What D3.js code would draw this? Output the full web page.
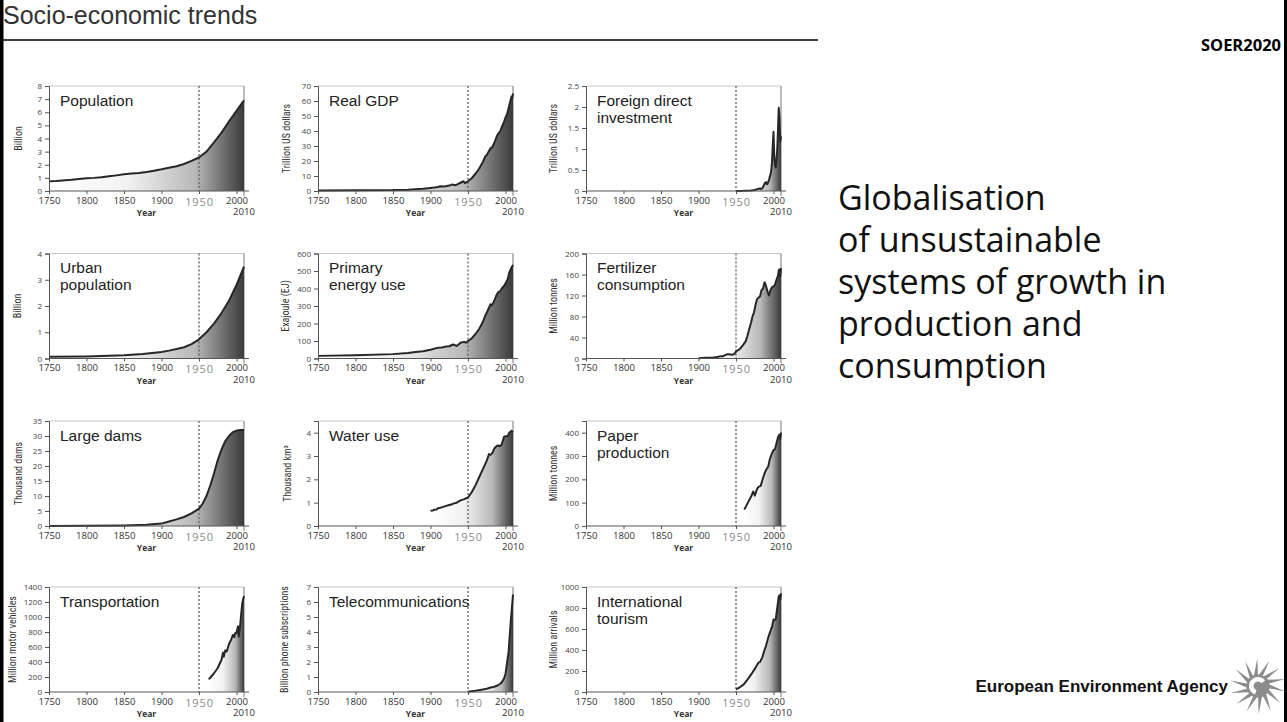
<!DOCTYPE html>
<html><head><meta charset="utf-8">
<script src="https://cdn.jsdelivr.net/npm/d3@7/dist/d3.min.js"></script>
<style>
html,body{margin:0;padding:0;background:#fff;overflow:hidden;}
svg{display:block;}
</style></head><body>
<svg id="chart" width="1287" height="722"></svg>
<script>
// ---------------- DATA ----------------
const xTicks = [1750, 1800, 1850, 1900, 1950, 2000];

const population = [[1750,0.75],[1760,0.77],[1780,0.85],[1800,0.97],[1810,1.0],[1820,1.05],[1830,1.12],[1840,1.19],[1850,1.27],[1860,1.33],[1870,1.38],[1880,1.45],[1890,1.55],[1900,1.65],[1910,1.77],[1920,1.88],[1930,2.06],[1940,2.3],[1950,2.55],[1960,3.0],[1970,3.7],[1980,4.45],[1990,5.3],[2000,6.1],[2010,6.9]];
const realGdp = [[1750,0.4],[1800,0.5],[1850,0.6],[1870,0.9],[1880,1.2],[1890,1.5],[1900,2.0],[1905,2.3],[1910,2.7],[1913,3.2],[1918,3.0],[1920,3.1],[1925,3.6],[1929,4.4],[1932,3.8],[1935,4.2],[1940,5.5],[1944,6.5],[1946,5.2],[1950,6.5],[1955,8.5],[1960,11.5],[1965,15],[1970,19.5],[1973,23],[1975,24],[1980,28.5],[1982,29],[1985,32],[1988,36],[1990,38],[1993,40],[1995,42.5],[1998,46],[2000,49],[2002,51],[2004,55],[2006,59],[2008,63],[2009,62],[2010,65]];
const fdi = [[1950,0.002],[1960,0.005],[1970,0.013],[1975,0.025],[1978,0.04],[1980,0.055],[1982,0.06],[1983,0.05],[1985,0.06],[1987,0.13],[1988,0.17],[1989,0.2],[1990,0.21],[1991,0.16],[1992,0.17],[1993,0.22],[1994,0.26],[1995,0.34],[1996,0.39],[1997,0.48],[1998,0.69],[1999,1.09],[2000,1.41],[2001,0.83],[2002,0.62],[2003,0.56],[2004,0.74],[2005,0.99],[2006,1.46],[2007,1.98],[2008,1.74],[2009,1.18],[2010,1.3]];
const urbanPopulation = [[1750,0.07],[1800,0.08],[1850,0.12],[1875,0.17],[1900,0.25],[1910,0.3],[1920,0.36],[1930,0.43],[1940,0.55],[1950,0.73],[1960,1.0],[1970,1.33],[1980,1.73],[1990,2.2],[2000,2.8],[2010,3.5]];
const energyUse = [[1750,15],[1800,18],[1850,25],[1870,32],[1880,37],[1890,42],[1900,50],[1910,62],[1915,63],[1920,68],[1925,70],[1930,80],[1935,72],[1940,90],[1945,95],[1947,90],[1950,100],[1955,115],[1960,140],[1965,170],[1970,210],[1973,245],[1975,262],[1978,290],[1980,310],[1982,305],[1985,330],[1988,362],[1990,378],[1993,385],[1995,400],[1998,415],[2000,428],[2003,455],[2005,490],[2008,520],[2010,535]];
const fertilizer = [[1900,0.5],[1905,1],[1910,1.5],[1915,1.5],[1920,2],[1925,3],[1930,4.5],[1932,4],[1935,6],[1938,8],[1940,8],[1945,7],[1948,9],[1950,13],[1955,18],[1960,27],[1963,33],[1965,42],[1968,58],[1970,68],[1972,80],[1974,88],[1976,102],[1978,113],[1980,116],[1982,118],[1984,130],[1986,133],[1988,145],[1989,143],[1990,138],[1992,128],[1994,120],[1996,130],[1998,136],[2000,137],[2002,141],[2004,150],[2006,158],[2007,168],[2008,170],[2009,156],[2010,172]];
const largeDams = [[1750,0],[1800,0.05],[1850,0.2],[1880,0.4],[1900,0.8],[1910,1.5],[1920,2.2],[1930,3.0],[1940,4.2],[1950,5.8],[1955,7.5],[1960,10],[1965,13.5],[1970,17.5],[1975,22],[1980,25.5],[1985,28.3],[1990,30],[1995,31.3],[2000,31.8],[2005,32],[2010,32]];
const waterUse = [[1900,0.65],[1903,0.66],[1905,0.7],[1908,0.71],[1910,0.76],[1913,0.78],[1915,0.8],[1920,0.85],[1925,0.9],[1928,0.92],[1930,0.96],[1935,1.0],[1940,1.1],[1945,1.15],[1950,1.22],[1955,1.45],[1960,1.75],[1965,2.1],[1970,2.45],[1975,2.8],[1978,3.08],[1980,3.05],[1983,3.15],[1985,3.32],[1988,3.42],[1990,3.45],[1993,3.43],[1995,3.5],[1998,3.82],[2000,3.85],[2003,3.85],[2005,4.0],[2008,4.08],[2010,4.02]];
const paperProduction = [[1961,70],[1965,95],[1970,125],[1973,148],[1975,130],[1978,158],[1980,168],[1983,172],[1985,195],[1988,225],[1990,240],[1993,255],[1995,285],[1998,312],[2000,325],[2002,330],[2004,355],[2006,380],[2008,392],[2009,372],[2010,400]];
const transportation = [[1963,170],[1965,190],[1970,250],[1975,320],[1980,430],[1982,525],[1983,470],[1985,555],[1987,540],[1990,640],[1993,700],[1995,760],[1997,730],[1998,780],[2000,790],[2002,875],[2003,740],[2005,900],[2007,1120],[2008,1200],[2010,1280]];
const telecom = [[1950,0.01],[1960,0.08],[1970,0.17],[1975,0.22],[1980,0.3],[1985,0.35],[1990,0.45],[1993,0.55],[1995,0.65],[1998,0.9],[2000,1.2],[2001,1.55],[2002,1.9],[2003,2.3],[2004,2.6],[2005,3.3],[2006,4.0],[2007,4.7],[2008,5.3],[2009,5.9],[2010,6.5]];
const tourism = [[1950,25],[1955,45],[1960,70],[1965,115],[1970,165],[1975,220],[1980,280],[1982,285],[1985,330],[1988,400],[1990,440],[1993,520],[1995,560],[1998,620],[2000,690],[2001,685],[2003,695],[2005,800],[2007,910],[2008,920],[2009,880],[2010,940]];

const ticksPopulation = [0,1,2,3,4,5,6,7,8];
const ticksGdp = [0,10,20,30,40,50,60,70];
const ticksFdi = [0,0.5,1,1.5,2,2.5];
const ticksUrban = [0,1,2,3,4];
const ticksEnergy = [0,100,200,300,400,500,600];
const ticksFertilizer = [0,40,80,120,160,200];
const ticksDams = [0,5,10,15,20,25,30,35];
const ticksWater = [0,1,2,3,4];
const ticksPaper = [0,100,200,300,400];
const ticksTransport = [0,200,400,600,800,1000,1200,1400];
const ticksTelecom = [0,1,2,3,4,5,6,7];
const ticksTourism = [0,200,400,600,800,1000];

const titles = [["Population"],["Real GDP"],["Foreign direct","investment"],["Urban","population"],["Primary","energy use"],["Fertilizer","consumption"],["Large dams"],["Water use"],["Paper","production"],["Transportation"],["Telecommunications"],["International","tourism"]];
const units = ["Billion","Trillion US dollars","Trillion US dollars","Billion","Exajoule (EJ)","Million tonnes","Thousand dams","Thousand km³","Million tonnes","Million motor vehicles","Billion phone subscriptions","Million arrivals"];
const series = [population, realGdp, fdi, urbanPopulation, energyUse, fertilizer, largeDams, waterUse, paperProduction, transportation, telecom, tourism];
const yTickSets = [ticksPopulation, ticksGdp, ticksFdi, ticksUrban, ticksEnergy, ticksFertilizer, ticksDams, ticksWater, ticksPaper, ticksTransport, ticksTelecom, ticksTourism];
const yMaxes = [8, 70, 2.5, 4, 600, 200, 35, 4.5, 450, 1400, 7, 1000];

const rightText = ["Globalisation","of unsustainable","systems of growth in","production and","consumption"];

// ---------------- LAYOUT ----------------
const colX = [49, 318, 586];
const rowY = [86, 253.5, 421, 587];
const plotW = 195, plotH = 105;
const unitOffset = [27, 28, 29, 28, 29, 29, 27, 27, 29, 33, 30, 29];

const svg = d3.select('#chart');
const defs = svg.append('defs');
const tickFont = "'Open Sans', 'Liberation Sans', sans-serif";
const titleFont = "'Liberation Sans', Arial, sans-serif";
const narrowFont = "'Liberation Sans Narrow', 'Roboto Condensed', 'DejaVu Sans Condensed', sans-serif";

// page frame & header
svg.append('rect').attr('x',0).attr('y',0).attr('width',3.5).attr('height',722).attr('fill','#000');
svg.append('rect').attr('x',1284).attr('y',0).attr('width',3).attr('height',722).attr('fill','#000');
svg.append('text').attr('x',3).attr('y',23.5).text('Socio-economic trends')
  .attr('font-family',titleFont).attr('font-size',25).attr('fill','#333');
svg.append('line').attr('x1',0).attr('x2',818).attr('y1',40).attr('y2',40).attr('stroke','#000').attr('stroke-width',1.5);
svg.append('text').attr('x',1281).attr('y',51).attr('text-anchor','end').text('SOER2020')
  .attr('font-family',"'Open Sans', sans-serif").attr('font-weight','bold').attr('font-size',16.5).attr('fill','#000');

// panels
series.forEach((data, i) => {
  const col = i % 3, row = Math.floor(i / 3);
  const x0 = colX[col], y0 = rowY[row];
  const x = d3.scaleLinear().domain([1750, 2010]).range([x0, x0 + plotW]);
  const y = d3.scaleLinear().domain([0, yMaxes[i]]).range([y0 + plotH, y0]);
  const g = svg.append('g');

  const gid = 'grad' + i;
  const grad = defs.append('linearGradient').attr('id', gid).attr('gradientUnits', 'userSpaceOnUse')
    .attr('x1', x(data[0][0])).attr('x2', x(2010)).attr('y1', 0).attr('y2', 0);
  [[0,'#ffffff'],[0.4,'#f2f2f2'],[0.75,'#b8b8b8'],[1,'#3a3a3a']].forEach(s =>
    grad.append('stop').attr('offset', s[0]).attr('stop-color', s[1]));

  // light frame
  g.append('line').attr('x1', x0).attr('x2', x(2010)).attr('y1', y0).attr('y2', y0).attr('stroke', '#c4c4c4');
  g.append('line').attr('x1', x(2010)).attr('x2', x(2010)).attr('y1', y0).attr('y2', y0 + plotH + 5).attr('stroke', '#777');

  // area
  g.append('path').datum(data)
    .attr('d', d3.area().x(d => x(d[0])).y0(y(0)).y1(d => y(d[1])))
    .attr('fill', `url(#${gid})`);

  // 1950 dotted line
  g.append('line').attr('x1', x(1950)).attr('x2', x(1950)).attr('y1', y0).attr('y2', y(0))
    .attr('stroke', '#6a6a6a').attr('stroke-width', 1.4).attr('stroke-dasharray', '2,2');

  // data line
  g.append('path').datum(data)
    .attr('d', d3.line().x(d => x(d[0])).y(d => y(d[1])))
    .attr('fill', 'none').attr('stroke', '#262626').attr('stroke-width', 2).attr('stroke-linejoin', 'round');

  // y axis
  const ya = g.append('g').attr('transform', `translate(${x0},0)`)
    .call(d3.axisLeft(y).tickValues(yTickSets[i]).tickSize(4).tickPadding(3).tickFormat(d => String(d)));
  ya.select('.domain').attr('stroke', '#555');
  ya.selectAll('.tick line').attr('stroke', '#555');
  ya.selectAll('.tick text').attr('font-family', tickFont).attr('font-size', 8).attr('fill', '#444');

  // x axis
  const xa = g.append('g').attr('transform', `translate(0,${y(0)})`)
    .call(d3.axisBottom(x).tickValues(xTicks).tickSize(3).tickPadding(3).tickFormat(d => String(d)));
  xa.select('.domain').remove();
  xa.selectAll('.tick line').attr('stroke', '#555');
  xa.selectAll('.tick text').attr('font-family', tickFont).attr('font-size', 9.6).attr('fill', '#333');
  xa.selectAll('.tick text').filter(d => d === 1950)
    .attr('font-size', 11).attr('fill', '#8a8a8a').attr('letter-spacing', 0.9).attr('dy', '0.78em');
  g.append('line').attr('x1', x0).attr('x2', x(2010) + 5).attr('y1', y(0)).attr('y2', y(0)).attr('stroke', '#555');

  g.append('text').attr('x', x(2010)).attr('y', y(0) + 24).attr('text-anchor', 'middle').text('2010')
    .attr('font-family', tickFont).attr('font-size', 9.6).attr('fill', '#333');
  g.append('text').attr('x', x0 + plotW / 2).attr('y', y(0) + 25).attr('text-anchor', 'middle').text('Year')
    .attr('font-family', tickFont).attr('font-size', 8.5).attr('font-weight', 'bold').attr('fill', '#333');

  // unit label
  g.append('text').attr('transform', `translate(${x0 - unitOffset[i]},${y0 + plotH / 2}) rotate(-90)`)
    .attr('text-anchor', 'middle').text(units[i])
    .attr('font-family', narrowFont).attr('font-size', 10).attr('fill', '#333');

  // title (one text element per line)
  titles[i].forEach((line, k) => {
    g.append('text').attr('x', x0 + 11).attr('y', y0 + 19.5 + k * 17.3)
      .attr('font-family', titleFont).attr('font-size', 15.5).attr('fill', '#222').text(line);
  });
});

// right side text
const rt = svg.append('text').attr('font-family', "'Open Sans', sans-serif").attr('font-size', 34).attr('fill', '#111');
rightText.forEach((line, k) => rt.append('tspan').attr('x', 838).attr('y', 210 + 42 * k).text(line));

// EEA logo
svg.append('text').attr('x', 1228).attr('y', 692).attr('text-anchor', 'end').text('European Environment Agency')
  .attr('font-family', "'Liberation Sans', Arial, sans-serif").attr('font-weight', 'bold').attr('font-size', 17).attr('fill', '#111');
const logo = svg.append('g').attr('transform', 'translate(1258,686)');
const nRays = 14;
d3.range(nRays).forEach(k => {
  const a = k / nRays * 2 * Math.PI;
  const p = (r, ang) => [r * Math.cos(ang), r * Math.sin(ang)];
  const pts = [p(10, a - 0.22), p(28, a + 0.2), p(10, a + 0.22)];
  logo.append('path').attr('d', 'M' + pts.map(q => q.join(',')).join('L') + 'Z').attr('fill', '#8c8c8c');
});
logo.append('circle').attr('r', 11.5).attr('fill', '#8c8c8c');
logo.append('path').attr('d', d3.arc()({innerRadius: 4.5, outerRadius: 9, startAngle: -2.8, endAngle: 0.9})).attr('fill', '#fff');
</script>
</body></html>
